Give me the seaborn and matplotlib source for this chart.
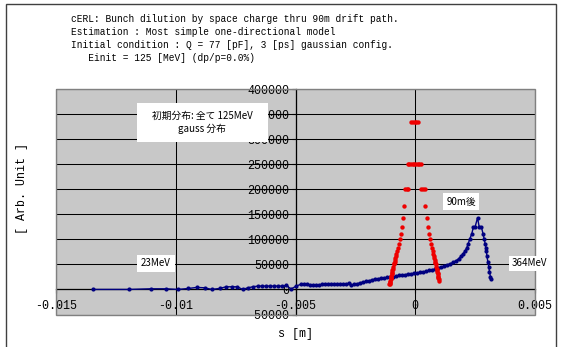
import matplotlib
matplotlib.use("Agg")
import matplotlib.pyplot as plt
from matplotlib.patches import Rectangle
import pandas as pd
import seaborn as sns

# ---- text ----
title_lines = [
    "cERL: Bunch dilution by space charge thru 90m drift path.",
    "Estimation : Most simple one-directional model",
    "Initial condition : Q = 77 [pF], 3 [ps] gaussian config.",
    "   Einit = 125 [MeV] (dp/p=0.0%)",
]
x_label = "s [m]"
y_label = "[ Arb. Unit ]"
note_initial = "初期分布: 全て 125MeV\ngauss 分布"
note_after = "90m後"
note_low = "23MeV"
note_high = "364MeV"

# ---- axes ----
x_ticks = [-0.015, -0.01, -0.005, 0.0, 0.005]
x_tick_labels = ["-0.015", "-0.01", "-0.005", "0", "0.005"]
y_ticks = [-50000, 0, 50000, 100000, 150000, 200000, 250000, 300000, 350000, 400000]
y_tick_labels = ["-50000", "0", "50000", "100000", "150000", "200000",
                 "250000", "300000", "350000", "400000"]

# ---- bunch after 90 m drift (blue) ----
blue_s = [
    -0.01345, -0.01195, -0.01105, -0.01040, -0.00990, -0.00947, -0.00913, -0.00879,
    -0.00850, -0.00817, -0.00789, -0.00765, -0.00744, -0.00720, -0.00699, -0.00678,
    -0.00656, -0.00640, -0.00623, -0.00606, -0.00590, -0.00573, -0.00556, -0.00540,
    -0.00518, -0.00497,
    -0.00476, -0.00463, -0.00450, -0.00438, -0.00425, -0.00413, -0.00400, -0.00388,
    -0.00375, -0.00363, -0.00350, -0.00338, -0.00325, -0.00313, -0.00300, -0.00288,
    -0.00275, -0.00267, -0.00254, -0.00242, -0.00229, -0.00217, -0.00204, -0.00192,
    -0.00179, -0.00167, -0.00154, -0.00142, -0.00129, -0.00117, -0.00104, -0.00092,
    -0.00079, -0.00067, -0.00054, -0.00042, -0.00029, -0.00017, -0.00004, 0.00008,
    0.00021, 0.00033, 0.00046, 0.00058, 0.00071, 0.00083, 0.00096, 0.00108,
    0.00121, 0.00133, 0.00146, 0.00158, 0.00171, 0.00181, 0.00192, 0.00200,
    0.00208, 0.00215, 0.00221, 0.00227, 0.00236, 0.00243, 0.00250, 0.00260,
    0.00267, 0.00276, 0.00283, 0.00288, 0.00292, 0.00295, 0.00297, 0.00299,
    0.00303, 0.00307, 0.00310, 0.00314, 0.00315,
]
blue_v = [
    0, 0, 1300, 1300, 0, 2000, 4000, 3300,
    0, 2000, 5300, 5300, 5300, 0, 3300, 5300,
    6700, 6700, 6700, 6700, 6700, 6700, 6700, 8000,
    1000, 6700,
    10700, 10700, 10000, 9300, 9300, 9300, 9300, 10000,
    10000, 10000, 10700, 10700, 10700, 11300, 11300, 11300,
    12000, 8000, 10000, 11300, 13300, 14700, 16000, 17300,
    19300, 20700, 21300, 22700, 23300, 24000, 24700, 25300,
    26700, 28000, 28700, 29300, 30700, 31300, 32000, 33300,
    34000, 35300, 36000, 38000, 39300, 40700, 42700, 44700,
    46700, 48700, 51300, 54000, 57300, 61300, 66700, 71400,
    76900, 83300, 90900, 100000, 111100, 125000, 125000, 142900,
    125000, 125000, 111100, 100000, 90900, 83300, 76900, 66700,
    55600, 45500, 35700, 25000, 20000,
]

# ---- initial gaussian bunch (red) ----
red_s = [
    -0.00108, -0.00107, -0.00107, -0.00106, -0.00105, -0.00103, -0.00102, -0.00101,
    -0.00100, -0.00098, -0.00097, -0.00096, -0.00095, -0.00093, -0.00091, -0.00089,
    -0.00088, -0.00086, -0.00085, -0.00083, -0.00081, -0.00079, -0.00076, -0.00073,
    -0.00069, -0.00065, -0.00060, -0.00057, -0.00053, -0.00046,
    -0.00042, -0.00036, -0.00029,
    -0.00032, -0.00025, -0.00018, -0.00011, -0.00004, 0.00003, 0.00010, 0.00017, 0.00024,
    -0.00018, -0.00010, -0.00003, 0.00005, 0.00013,
    0.00026, 0.00033, 0.00040,
    0.00042, 0.00049, 0.00054, 0.00058, 0.00063, 0.00067, 0.00070, 0.00073,
    0.00076, 0.00078, 0.00080, 0.00081, 0.00083, 0.00084, 0.00085, 0.00087,
    0.00089, 0.00090, 0.00091, 0.00093, 0.00094, 0.00095, 0.00096, 0.00097,
    0.00098, 0.00100,
]
red_v = [
    10000, 11100, 12500, 14300, 16700, 20000, 22200, 25000,
    27800, 30300, 33300, 35700, 38500, 41700, 45500, 50000,
    52600, 55600, 58800, 62500, 66700, 71400, 76900, 83300,
    90900, 100000, 111100, 125000, 142900, 166700,
    200000, 200000, 200000,
    250000, 250000, 250000, 250000, 250000, 250000, 250000, 250000, 250000,
    333300, 333300, 333300, 333300, 333300,
    200000, 200000, 200000,
    166700, 142900, 125000, 111100, 100000, 90900, 83300, 76900,
    71400, 66700, 62500, 58800, 55600, 52600, 50000, 45500,
    41700, 38500, 35700, 33300, 30300, 27800, 25000, 22200,
    20000, 16700,
]

blue = pd.DataFrame({"s": blue_s, "v": blue_v})
red = pd.DataFrame({"s": red_s, "v": red_v})

MONO = ["Liberation Mono", "DejaVu Sans Mono"]
JP = ["Noto Sans CJK JP", "DejaVu Sans"]
plt.rcParams["font.family"] = MONO
plt.rcParams["axes.unicode_minus"] = False

W, H = 561, 347
fig = plt.figure(figsize=(W / 100, H / 100), dpi=100)
fig.patch.set_facecolor("white")


def fx(px):
    return px / W


def fy(py):
    return 1 - py / H


# plot area
x0, x1, y0, y1 = 56, 535, 89, 314.5
ax = fig.add_axes([fx(x0), fy(y1), (x1 - x0) / W, (y1 - y0) / H])
ax.set_facecolor("#C8C8C8")

sns.lineplot(data=blue, x="s", y="v", sort=False, estimator=None, ax=ax,
             color="#000080", linewidth=1.0, marker="o", markersize=3.0,
             markeredgewidth=0, zorder=3)
sns.scatterplot(data=red, x="s", y="v", ax=ax, color="#EE0000", s=10,
                linewidth=0, zorder=4)

ax.set_xlim(-0.015, 0.005)
ax.set_ylim(-50000, 400000)
ax.set_xticks(x_ticks)
ax.set_xticklabels(x_tick_labels)
ax.set_yticks(y_ticks)
ax.set_yticklabels(y_tick_labels)
ax.set_xlabel("")
ax.set_ylabel("")

ax.set_axisbelow(True)
ax.grid(True, color="black", linewidth=0.75)

# axes cross inside the plot area
ax.spines["left"].set_position(("data", -0.005))
ax.spines["bottom"].set_position(("data", 0))
for side in ("left", "bottom"):
    ax.spines[side].set_color("black")
    ax.spines[side].set_linewidth(0.9)
for side in ("top", "right"):
    ax.spines[side].set_visible(False)
ax.tick_params(axis="both", labelsize=8.4, labelfontfamily="Liberation Mono")
ax.tick_params(axis="y", direction="out", length=3, pad=1.5, color="black")
ax.tick_params(axis="x", direction="out", length=3, pad=4.5, color="black")

# plot-area frame
ax.add_patch(Rectangle((0, 0), 1, 1, transform=ax.transAxes, fill=False,
                       edgecolor="#808080", linewidth=1.0, clip_on=False, zorder=5))

# axis titles
fig.text(fx(296), fy(334), x_label, fontsize=8.4, ha="center", va="center")
fig.text(fx(22), fy(189), y_label, fontsize=8.4, ha="center", va="center",
         rotation=90)

# heading
for i, line in enumerate(title_lines):
    fig.text(fx(71), fy(19 + 13 * i), line, fontsize=6.85, ha="left", va="center")


# white note boxes
def note(left, top, right, bottom, text, cx, cy, size, family=JP, linespacing=1.3):
    fig.add_artist(Rectangle((fx(left), fy(bottom)), (right - left) / W,
                             (bottom - top) / H, transform=fig.transFigure,
                             facecolor="white", edgecolor="none", zorder=10))
    fig.text(fx(cx), fy(cy), text, family=family, fontsize=size, ha="center",
             va="center", zorder=11, linespacing=linespacing)


note(137, 103, 268, 142, note_initial, 202, 122.5, 7.0)
note(443, 193, 479, 210, note_after, 461, 201.5, 7.0)
note(137, 255, 175, 272, note_low, 156, 263.5, 7.0)
note(509, 256, 549, 271, note_high, 529, 263.5, 7.0)

# outer frame (bottom edge falls just past the image)
fig.add_artist(Rectangle((fx(5.5), fy(349)), (556 - 5.5) / W, (349 - 3.5) / H,
                         transform=fig.transFigure, fill=False,
                         edgecolor="#404040", linewidth=1.0, zorder=12))

fig.savefig("out.png", dpi=100)
